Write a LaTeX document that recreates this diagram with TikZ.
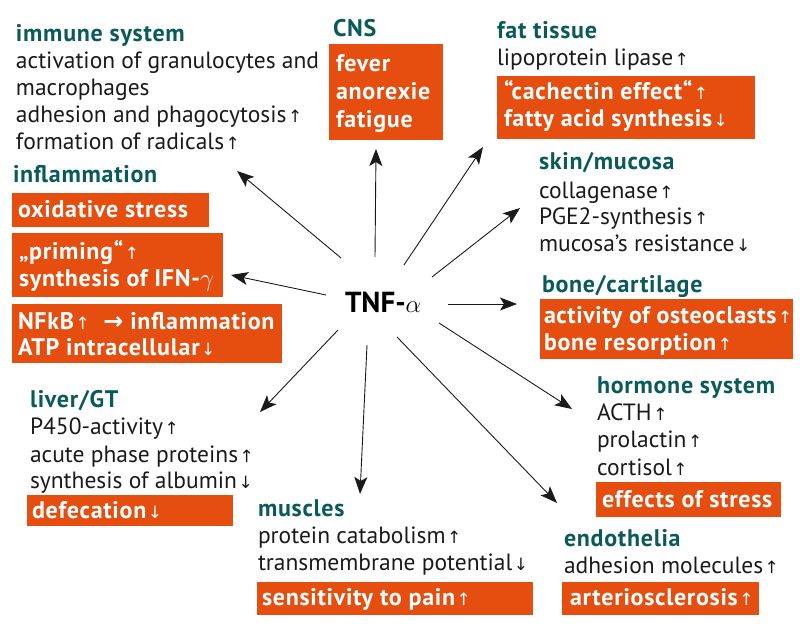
\documentclass[tikz,border=0pt]{standalone}
\usepackage{fontspec}
\setmainfont{PT Sans}
\newfontfamily\arrfont{DejaVu Sans}
\usetikzlibrary{arrows.meta}
\definecolor{tnforange}{HTML}{E64E10}
\definecolor{tnfteal}{HTML}{0A5A5A}
\definecolor{tnftext}{HTML}{1A1A1A}
\newcommand{\upa}{\hspace{1.5pt}{\arrfont\mdseries\fontsize{17}{17}\selectfont ↑}}
\newcommand{\dna}{\hspace{1.5pt}{\arrfont\mdseries\fontsize{17}{17}\selectfont ↓}}
\begin{document}
\begin{tikzpicture}[x=1pt,y=-1pt,
  every node/.style={inner sep=0pt, outer sep=0pt},
  txt/.style={anchor=base west, text=tnftext, font=\fontsize{23.5}{28}\selectfont},
  head/.style={anchor=base west, text=tnfteal, font=\fontsize{24}{28}\selectfont\bfseries\addfontfeature{LetterSpace=3}},
  wtxt/.style={anchor=base west, text=white, font=\fontsize{24}{28}\selectfont\bfseries\addfontfeature{LetterSpace=3}},
  obox/.style={anchor=north west, fill=tnforange, draw=none},
  arr/.style={draw=tnftext, line width=0.9pt, -{Stealth[length=17pt,width=13pt,inset=4pt]}}
]
\useasboundingbox (0,0) rectangle (800,631);
% immune system
\node[head] (imh) at (16,42) {immune system};
\node[txt] (im1) at (16,69) {activation of granulocytes and};
\node[txt] (im2) at (16,96) {macrophages};
\node[txt] (im3) at (16,123) {adhesion and phagocytosis\upa};
\node[txt] (im4) at (16,150) {formation of radicals\upa};
% CNS
\node[head] (cnsh) at (333,37) {CNS};
\node[obox, minimum width=114pt, minimum height=96pt] (cnsb) at (329,44) {};
\node[wtxt] (cns1) at (336,72) {fever};
\node[wtxt] (cns2) at (336,100) {anorexie};
\node[wtxt] (cns3) at (336,128) {fatigue};
% fat tissue
\node[head] (fath) at (497,39) {fat tissue};
\node[txt] (fat1) at (497,66) {lipoprotein lipase\upa};
\node[obox, minimum width=258pt, minimum height=63pt] (fatb) at (497,76) {};
\node[wtxt] (fat2) at (504,100) {“cachectin effect“\upa};
\node[wtxt] (fat3) at (504,127) {fatty acid synthesis\dna};
% skin/mucosa
\node[head] (skh) at (539,170) {skin/mucosa};
\node[txt] (sk1) at (539,198) {collagenase\upa};
\node[txt] (sk2) at (539,224) {PGE2-synthesis\upa};
\node[txt] (sk3) at (539,251) {mucosa’s resistance\dna};
% bone/cartilage
\node[head] (boh) at (542,292) {bone/cartilage};
\node[obox, minimum width=253pt, minimum height=60pt] (bob) at (540,299) {};
\node[wtxt, font=\fontsize{24}{28}\selectfont\bfseries\addfontfeature{LetterSpace=2.4}] (bo1) at (544,323) {activity of osteoclasts\upa};
\node[wtxt] (bo2) at (544,350) {bone resorption\upa};
% hormone system
\node[head] (hoh) at (597,393) {hormone system};
\node[txt] (ho1) at (597,420) {ACTH\upa};
\node[txt] (ho2) at (597,447) {prolactin\upa};
\node[txt] (ho3) at (597,475) {cortisol\upa};
\node[obox, minimum width=185pt, minimum height=35pt] (hob) at (596,482) {};
\node[wtxt] (ho4) at (602,507) {effects of stress};
% endothelia
\node[head] (enh) at (564,546) {endothelia};
\node[txt] (en1) at (564,573) {adhesion molecules\upa};
\node[obox, minimum width=197pt, minimum height=33pt] (enb) at (562,582) {};
\node[wtxt] (en2) at (570,605) {arteriosclerosis\upa};
% muscles
\node[head] (muh) at (258,516) {muscles};
\node[txt] (mu1) at (258,543) {protein catabolism\upa};
\node[txt] (mu2) at (258,570) {transmembrane potential\dna};
\node[obox, minimum width=276pt, minimum height=33pt] (mub) at (257,582) {};
\node[wtxt] (mu3) at (262,605) {sensitivity to pain\upa};
% liver/GT
\node[head] (lih) at (30,407) {liver/GT};
\node[txt] (li1) at (30,434) {P450-activity\upa};
\node[txt] (li2) at (30,462) {acute phase proteins\upa};
\node[txt] (li3) at (30,488) {synthesis of albumin\dna};
\node[obox, minimum width=206pt, minimum height=31pt] (lib) at (27,495) {};
\node[wtxt] (li4) at (32,518) {defecation\dna};
% inflammation
\node[head] (inh) at (13,183) {inflammation};
\node[obox, minimum width=197pt, minimum height=34pt] (inb1) at (12,193) {};
\node[wtxt] (in1) at (18,217) {oxidative stress};
\node[obox, minimum width=211pt, minimum height=64pt] (inb2) at (12,233) {};
\node[wtxt] (in2) at (19,259) {„priming“\upa};
\node[wtxt] (in3) at (19,286) {synthesis of IFN-$\gamma$};
\node[obox, minimum width=270pt, minimum height=59pt] (inb3) at (12,304) {};
\node[wtxt] (in4) at (18,329) {NFkB\upa\ \ {\arrfont\bfseries →}\ inflammation};
\node[wtxt] (in5) at (18,355) {ATP intracellular\dna};
% center
\node[anchor=base west, text=black, font=\fontsize{29}{30}\selectfont\bfseries] (tnf) at (345,312) {TNF-$\alpha$};
% arrow ends
\coordinate (sIm) at (341,258); \coordinate (tIm) at (237,171);
\coordinate (sCn) at (375,257); \coordinate (tCn) at (376,149);
\coordinate (sFa) at (404,265); \coordinate (tFa) at (483,147);
\coordinate (sSk) at (432,277); \coordinate (tSk) at (520,208);
\coordinate (sBo) at (448,304); \coordinate (tBo) at (517,304);
\coordinate (sHo) at (439,323); \coordinate (tHo) at (572,409);
\coordinate (sEn) at (397,337); \coordinate (tEn) at (557,503);
\coordinate (sMu) at (367,345); \coordinate (tMu) at (360,494);
\coordinate (sLi) at (338,330); \coordinate (tLi) at (260,412);
\coordinate (sIn) at (326,295); \coordinate (tIn) at (231,275);
\draw[arr] (sIm) -- (tIm);
\draw[arr] (sCn) -- (tCn);
\draw[arr] (sFa) -- (tFa);
\draw[arr] (sSk) -- (tSk);
\draw[arr] (sBo) -- (tBo);
\draw[arr] (sHo) -- (tHo);
\draw[arr] (sEn) -- (tEn);
\draw[arr] (sMu) -- (tMu);
\draw[arr] (sLi) -- (tLi);
\draw[arr] (sIn) -- (tIn);
\end{tikzpicture}
\end{document}
